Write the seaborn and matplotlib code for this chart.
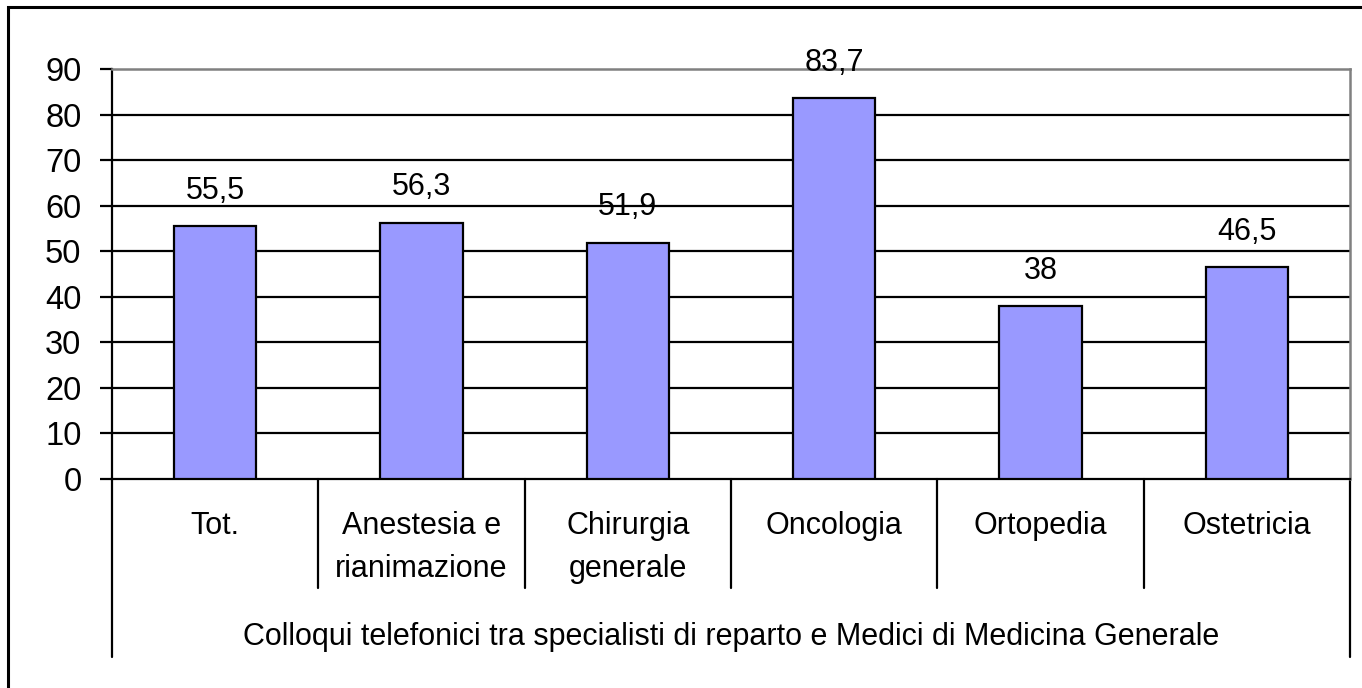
import pandas as pd
import seaborn as sns
import matplotlib.pyplot as plt
import matplotlib.patches as patches
import matplotlib.transforms as mtransforms

categories = ['Tot.', 'Anestesia e\nrianimazione', 'Chirurgia\ngenerale', 'Oncologia', 'Ortopedia', 'Ostetricia']
values = [55.5, 56.3, 51.9, 83.7, 38, 46.5]
value_labels = ['55,5', '56,3', '51,9', '83,7', '38', '46,5']
group_label = 'Colloqui telefonici tra specialisti di reparto e Medici di Medicina Generale'
y_ticks = [0, 10, 20, 30, 40, 50, 60, 70, 80, 90]

sns.set_style('white')
plt.rcParams['font.family'] = ['Liberation Sans', 'DejaVu Sans']
plt.rcParams['text.color'] = 'black'
plt.rcParams['ytick.color'] = 'black'
plt.rcParams['ytick.labelcolor'] = 'black'

FS = 22

data = pd.DataFrame({'cat': categories, 'val': values})

W, H = 1362, 688
fig = plt.figure(figsize=(W / 100, H / 100), dpi=100)
ax = fig.add_axes([112 / W, 1 - 479 / H, (1350 - 112) / W, (479 - 69) / H])

sns.barplot(data=data, x='cat', y='val', color='#9999FF', saturation=1,
            edgecolor='black', linewidth=1.6, width=0.4, ax=ax, zorder=3)

ax.set_ylim(0, 90)
ax.set_xlim(-0.5, len(categories) - 0.5)
ax.set_yticks(y_ticks)
ax.set_yticklabels([str(t) for t in y_ticks], fontsize=23.5, color='black')
ax.tick_params(axis='y', direction='out', length=9, width=1.6, color='black', pad=13, left=True)
ax.set_xticks([])
ax.set_xlabel('')
ax.set_ylabel('')

for t in y_ticks[1:-1]:
    ax.axhline(t, color='black', lw=1.6, zorder=1)
ax.spines['top'].set_color('#808080')
ax.spines['top'].set_linewidth(1.8)
ax.spines['right'].set_color('#808080')
ax.spines['right'].set_linewidth(1.8)
ax.spines['left'].set_color('black')
ax.spines['left'].set_linewidth(1.6)
ax.spines['bottom'].set_color('black')
ax.spines['bottom'].set_linewidth(1.6)

for i, (v, lab) in enumerate(zip(values, value_labels)):
    ax.annotate(lab, xy=(i, v), xytext=(0, 19.5), textcoords='offset points',
                ha='center', va='baseline', fontsize=FS, color='black')

# hierarchical category axis
trans = mtransforms.blended_transform_factory(ax.transData, ax.transAxes)
px = 1 / (479 - 69)
for b in range(1, len(categories)):
    ax.plot([b - 0.5, b - 0.5], [0, -109 * px], transform=trans, color='black',
            lw=1.6, clip_on=False)
for b in [-0.5, len(categories) - 0.5]:
    ax.plot([b, b], [0, -178 * px], transform=trans, color='black',
            lw=1.6, clip_on=False)
for i, c in enumerate(categories):
    ax.text(i, -32 * px, c, transform=trans, ha='center', va='top',
            fontsize=FS, linespacing=1.55, color='black')
ax.text((len(categories) - 1) / 2, -158 * px, group_label, transform=trans,
        ha='center', va='center', fontsize=FS, color='black')

# chart border
fig.patches.append(patches.Rectangle((8 / W, -0.1), 1.2, 1 - 7 / H + 0.1,
                                     transform=fig.transFigure, fill=False,
                                     edgecolor='black', lw=2.2))

fig.savefig('out.png', dpi=100)
